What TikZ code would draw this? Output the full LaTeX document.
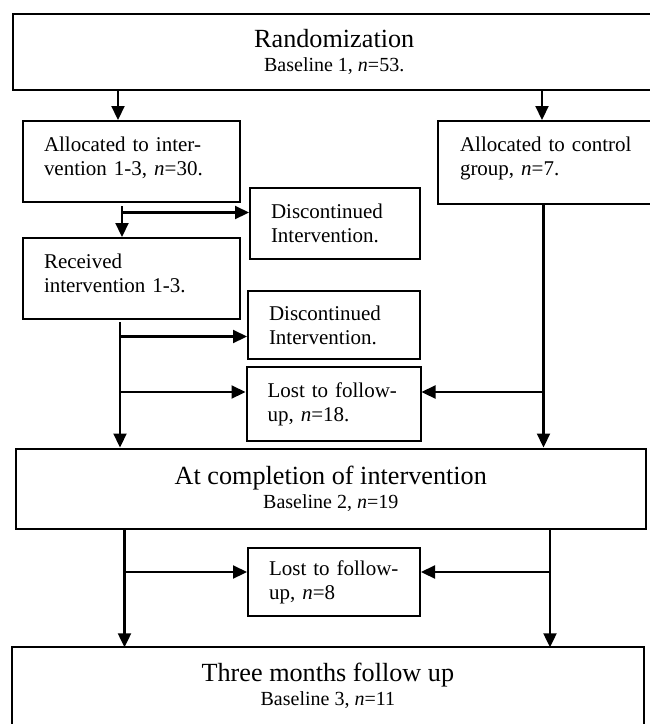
\documentclass[tikz,border=0pt]{standalone}
\usepackage{fontspec}
\setmainfont{Liberation Serif}
\usetikzlibrary{arrows.meta}
\newcommand\basetext[1]{{\fontsize{20}{24}\selectfont #1}}
\begin{document}
\begin{tikzpicture}[x=1pt,y=-1pt,
  box/.style={draw, line width=2pt, rectangle, anchor=north west, inner sep=0pt},
  stage/.style={box, align=center, font=\fontsize{26.2}{24.5}\selectfont},
  note/.style={box, align=left, inner xsep=21pt, font=\fontsize{21}{24}\selectfont},
  flow/.style={line width=2.2pt, -{Triangle[length=14pt,width=13pt]}},
  edge/.style={line width=2pt},
]
\useasboundingbox (0,0) rectangle (649,724);

% stages (the first one runs past the right margin)
\node[stage, minimum width=650pt, minimum height=76.3pt] (rand) at (11.7,12.7)
  {\hspace*{-7pt}Randomization\\\hspace*{-7pt}\basetext{Baseline 1, \textit{n}=53.}};
\node[stage, minimum width=630.5pt, minimum height=80.5pt] (compl) at (14.5,447.5)
  {At completion of intervention\\\basetext{Baseline 2, \textit{n}=19}};
% last stage: open at the bottom, its sides run off the page
\node[stage, draw=none, minimum width=630.3pt, minimum height=74.7pt] (three) at (11.7,647.3)
  {Three months follow up\\\basetext{Baseline 3, \textit{n}=11}};
\draw[edge] ([yshift=-8pt]three.south west) -- (three.north west) -- (three.north east) -- ([yshift=-8pt]three.south east);

% side boxes
\node[note, minimum width=217pt, minimum height=81pt, text width=175pt, text depth=35pt] (alloc) at (22,120)
  {Allocated to inter-\\vention 1-3, \textit{n}=30.};
\node[note, minimum width=225pt, minimum height=83pt, inner xsep=22pt, text width=181pt, text depth=36pt] (ctrl) at (437,120)
  {Allocated to control\\group, \textit{n}=7.};
\node[note, minimum width=170pt, minimum height=71pt, text width=128pt] (disc1) at (249,187)
  {Discontinued\\Intervention.};
\node[note, minimum width=217pt, minimum height=81pt, text width=175pt, text depth=35pt] (recv) at (22,237)
  {Received\\intervention 1-3.};
\node[note, minimum width=172pt, minimum height=68pt, text width=130pt] (disc2) at (247,290)
  {Discontinued\\Intervention.};
\node[note, minimum width=174pt, minimum height=74pt, text width=132pt] (lost1) at (245.5,366)
  {Lost to follow-\\up, \textit{n}=18.};
\node[note, minimum width=172pt, minimum height=68pt, text width=130pt] (lost2) at (247,547)
  {Lost to follow-\\up, \textit{n}=8};

% randomisation split
\coordinate (j1) at (118,0);
\coordinate (j2) at (542,0);
\draw[flow] (j1 |- rand.south) -- (j1 |- alloc.north);
\draw[flow] (j2 |- rand.south) -- (j2 |- ctrl.north);

% intervention arm
\coordinate (s1) at (122,206);
\coordinate (b1) at (122,212.5);
\draw[flow] (s1) -- (s1 |- recv.north);
\draw[flow] (b1) -- (b1 -| disc1.west);

\coordinate (s2) at (120,322);
\coordinate (b2) at (120,336.5);
\coordinate (b3) at (120,392);
\draw[flow] (s2) -- (s2 |- compl.north);
\draw[flow] (b2) -- (b2 -| disc2.west);
\draw[flow] (b3) -- (b3 -| lost1.west);

% control arm
\coordinate (c1) at (543.5,0);
\coordinate (b4) at (543.5,392);
\draw[flow] (c1 |- ctrl.south) -- (c1 |- compl.north);
\draw[flow] (b4) -- (b4 -| lost1.east);

% follow-up
\coordinate (s3) at (124.5,0);
\coordinate (s4) at (550,0);
\coordinate (b5) at (124.5,572);
\coordinate (b6) at (550,572);
\draw[flow] (s3 |- compl.south) -- (s3 |- three.north);
\draw[flow] (s4 |- compl.south) -- (s4 |- three.north);
\draw[flow] (b5) -- (b5 -| lost2.west);
\draw[flow] (b6) -- (b6 -| lost2.east);
\end{tikzpicture}
\end{document}
